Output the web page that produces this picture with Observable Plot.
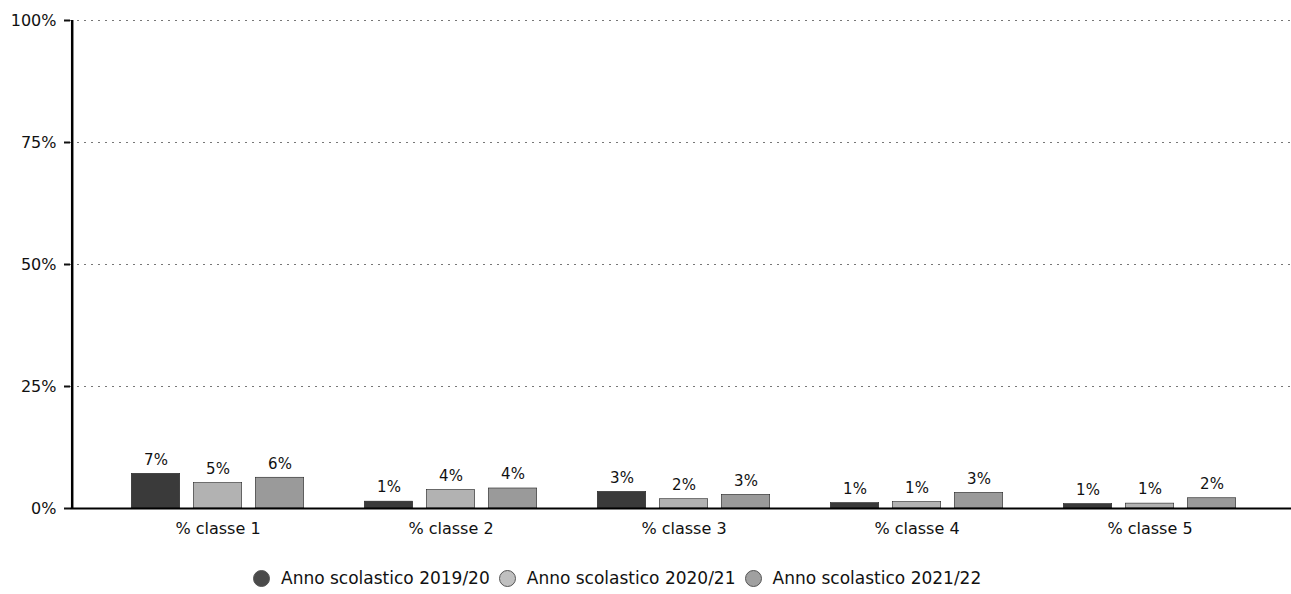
<!DOCTYPE html>
<html>
<head>
<meta charset="utf-8">
<script src="https://cdn.jsdelivr.net/npm/d3@7"></script>
<script src="https://cdn.jsdelivr.net/npm/@observablehq/plot@0.6"></script>
<style>
  body { margin: 0; background: #fff; font-family: "DejaVu Sans", sans-serif; }
  #chart { width: 1291px; }
  #chart svg { display: block; }
  .legend { padding-left: 253px; margin-top: 17px; height: 22px; display: flex; align-items: center; font-size: 17px; color: #111; white-space: nowrap; }
  .legend .sw { width: 17px; height: 17px; border-radius: 50%; display: inline-block; margin-right: 11px; border: 1px solid #555; box-sizing: border-box; flex: none; }
  .legend .item { display: flex; align-items: center; margin-right: 9px; }
</style>
</head>
<body>
<div id="chart"></div>
<script>
const classes = ["% classe 1", "% classe 2", "% classe 3", "% classe 4", "% classe 5"];
const years = ["Anno scolastico 2019/20", "Anno scolastico 2020/21", "Anno scolastico 2021/22"];
const v2019 = [7.1, 1.4, 3.4, 1.1, 0.9];
const v2020 = [5.2, 3.8, 1.9, 1.3, 1.0];
const v2021 = [6.3, 4.1, 2.8, 3.2, 2.1];
const yTicks = [0, 25, 50, 75, 100];
const colors = ["#3a3a3a", "#b2b2b2", "#9a9a9a"];
const legendColors = ["#4a4a4a", "#c0c0c0", "#a0a0a0"];

const series = [v2019, v2020, v2021];
const rows = [];
series.forEach((vals, si) => vals.forEach((v, ci) => rows.push({classe: classes[ci], year: years[si], si, value: v})));

const W = 1291, H = 550, mL = 70, mR = 0, insL = 29, insR = 24;
const bw = (W - mL - mR - insL - insR) / classes.length;
const step = 62, barW = 49;

const barMarks = years.map((yr, si) => {
  const off = (si - 1) * step;
  const il = bw / 2 + off - barW / 2;
  return Plot.barY(rows.filter(d => d.si === si), {
    x: "classe", y: "value", fill: colors[si],
    insetLeft: il, insetRight: bw - il - barW, stroke: "#222", strokeWidth: 0.6
  });
});
const labelMarks = years.map((yr, si) => Plot.text(rows.filter(d => d.si === si), {
  x: "classe", y: "value", dx: (si - 1) * step, dy: -14,
  text: d => Math.round(d.value) + "%", fontSize: 15, fill: "#111"
}));

const plot = Plot.plot({
  width: W, height: H,
  marginLeft: mL, marginRight: mR, marginTop: 20, marginBottom: 42,
  style: { fontFamily: "DejaVu Sans, sans-serif", fontSize: "15px", color: "#111", background: "#fff" },
  x: { domain: classes, padding: 0, insetLeft: insL, insetRight: insR, label: null },
  y: { domain: [0, 100], label: null },
  marks: [
    Plot.ruleY(yTicks.filter(t => t > 0), { stroke: "#777", strokeWidth: 1, strokeDasharray: "2,5" }),
    ...barMarks,
    ...labelMarks,
    Plot.ruleY([0], { stroke: "#000", strokeWidth: 2.2 }),
    Plot.ruleX([classes[0]], { y1: 0, y2: 100, dx: -(insL + bw / 2), stroke: "#000", strokeWidth: 2.5 }),
    Plot.axisY({ ticks: yTicks, tickFormat: d => d + "%", tickSize: 6, tickPadding: 8, strokeWidth: 2, fontSize: 16, fill: "#111" }),
    Plot.axisX({ tickSize: 0, tickPadding: 14, fontSize: 16, fill: "#111" })
  ]
});
const chart = document.getElementById("chart");
chart.appendChild(plot);

const legend = document.createElement("div");
legend.className = "legend";
years.forEach((yr, i) => {
  const it = document.createElement("span");
  it.className = "item";
  const sw = document.createElement("span");
  sw.className = "sw";
  sw.style.background = legendColors[i];
  it.appendChild(sw);
  it.appendChild(document.createTextNode(yr));
  legend.appendChild(it);
});
chart.appendChild(legend);
</script>
</body>
</html>
